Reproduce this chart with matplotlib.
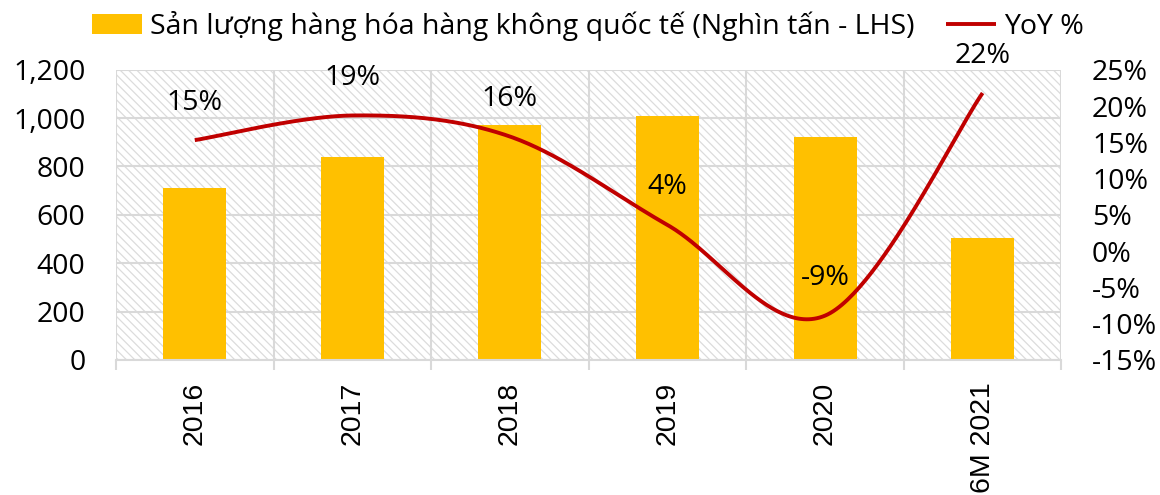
import numpy as np
import matplotlib
matplotlib.use("Agg")
import matplotlib.pyplot as plt
from matplotlib.patches import Rectangle
from matplotlib.ticker import FuncFormatter, FixedLocator

plt.rcParams['font.family'] = ['Open Sans', 'DejaVu Sans']
plt.rcParams['hatch.linewidth'] = 0.9

categories = ["2016", "2017", "2018", "2019", "2020", "6M 2021"]
volume = [710, 840, 972, 1010, 923, 505]
yoy = [15.3, 18.7, 15.8, 3.6, -8.9, 21.8]
yoy_labels = ["15%", "19%", "16%", "4%", "-9%", "22%"]
bar_name = "Sản lượng hàng hóa hàng không quốc tế (Nghìn tấn - LHS)"
line_name = "YoY %"

bar_color = "#FFC000"
line_color = "#C00000"
grid_color = "#D9D9D9"
fs = 20.5

fig = plt.figure(figsize=(11.6, 4.95), dpi=100)
ax = fig.add_axes([0.1, 0.273, 0.815, 0.586])
ax2 = ax.twinx()

x = np.arange(len(categories))

# hatched background
bg = Rectangle((0, 0), 1, 1, transform=ax.transAxes, facecolor="white",
               edgecolor="#DCDCDC", hatch="\\" * 4, lw=0, zorder=0)
ax.add_patch(bg)

ax.bar(x, volume, width=0.4, color=bar_color, zorder=2, label=bar_name)
ax.set_xlim(-0.5, len(categories) - 0.5)
ax.set_ylim(0, 1200)
ax.set_yticks(np.arange(0, 1201, 200))
ax.yaxis.set_major_formatter(FuncFormatter(lambda v, p: f"{int(v):,}"))
ax.set_xticks(x)
ax.set_xticklabels(categories, rotation=90, fontsize=fs,
                   family=['Liberation Sans', 'DejaVu Sans'])
ax.xaxis.set_minor_locator(FixedLocator(np.arange(-0.5, len(categories), 1.0)))
ax.tick_params(axis="x", which="major", length=0, pad=16)
ax.tick_params(axis="x", which="minor", length=7, color=grid_color, width=1.5)
ax.tick_params(axis="y", length=0, labelsize=fs, pad=22)
ax.grid(axis="y", color=grid_color, lw=1.5, zorder=1)
ax.grid(axis="x", which="minor", color=grid_color, lw=1.5, zorder=1)
ax.set_axisbelow(True)
for s in ax.spines.values():
    s.set_visible(False)
for s in ax2.spines.values():
    s.set_visible(False)
ax.spines["bottom"].set_visible(True)
ax.spines["bottom"].set_color(grid_color)
ax.spines["bottom"].set_linewidth(1.5)

# smoothed line (Bezier through points, like Excel's smoothed line)
P = np.column_stack([np.array(x, dtype=float), np.array(yoy, dtype=float)])
Pe = np.vstack([P[0], P, P[-1]])
xs, ys = [], []
t = np.linspace(0, 1, 60)
for i in range(len(P) - 1):
    p0, p1, p2, p3 = Pe[i], Pe[i + 1], Pe[i + 2], Pe[i + 3]
    c1 = p1 + (p2 - p0) / 6.0
    c2 = p2 - (p3 - p1) / 6.0
    b = ((1 - t) ** 3)[:, None] * p1 + (3 * (1 - t) ** 2 * t)[:, None] * c1 + \
        (3 * (1 - t) * t ** 2)[:, None] * c2 + (t ** 3)[:, None] * p2
    xs.extend(b[:, 0]); ys.extend(b[:, 1])
ax2.plot(xs, ys, color=line_color, lw=2.8, zorder=3, label=line_name,
         solid_capstyle="butt")
ax2.set_ylim(-15, 25)
ax2.set_yticks(np.arange(-15, 26, 5))
ax2.yaxis.set_major_formatter(FuncFormatter(lambda v, p: f"{int(v)}%"))
ax2.tick_params(axis="y", length=0, labelsize=fs, pad=22)
for xi, yi, lab in zip(x, yoy, yoy_labels):
    ax2.annotate(lab, (xi, yi), xytext=(0, 27), textcoords="offset points",
                 ha="center", va="center", fontsize=fs)

h1, l1 = ax.get_legend_handles_labels()
h2, l2 = ax2.get_legend_handles_labels()
fig.legend(h1 + h2, l1 + l2, loc="center", bbox_to_anchor=(0.507, 0.947), ncol=2,
           frameon=False, fontsize=fs, handlelength=1.75, handletextpad=0.3,
           columnspacing=1.1, borderpad=0, borderaxespad=0)

fig.savefig("out.png", dpi=100)
